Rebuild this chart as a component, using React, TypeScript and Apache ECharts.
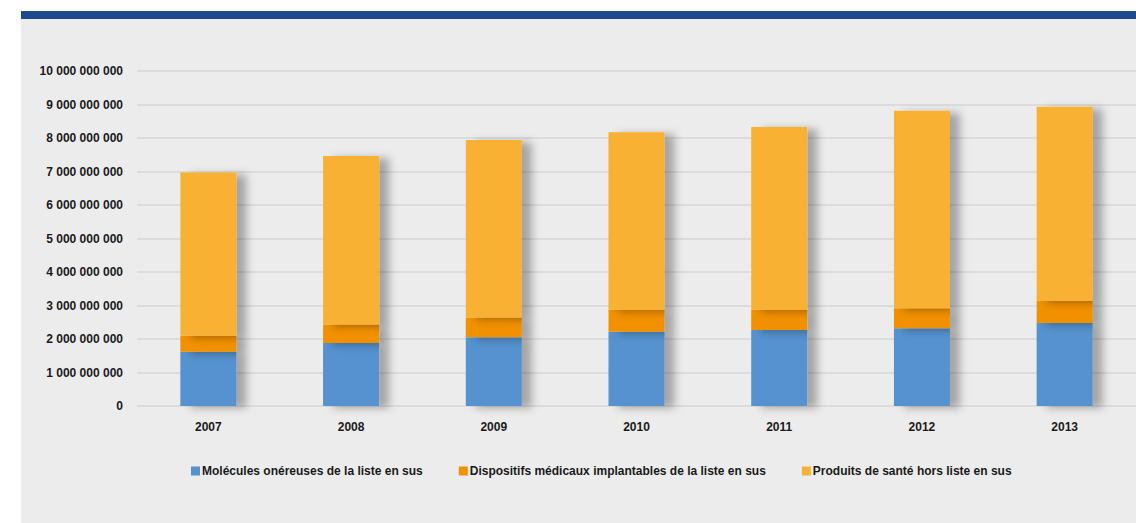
import React, { useEffect, useRef } from "react";
import * as echarts from "echarts";

const years = ["2007", "2008", "2009", "2010", "2011", "2012", "2013"];
const molecules = [1.62e9, 1.88e9, 2.05e9, 2.22e9, 2.27e9, 2.32e9, 2.48e9];
const dispositifs = [0.48e9, 0.55e9, 0.59e9, 0.65e9, 0.6e9, 0.6e9, 0.66e9];
const horsListe = [4.87e9, 5.03e9, 5.3e9, 5.3e9, 5.46e9, 5.89e9, 5.79e9];
const seriesNames = [
  "Molécules onéreuses de la liste en sus",
  "Dispositifs médicaux implantables de la liste en sus",
  "Produits de santé hors liste en sus",
];
const colors = ["#5592cf", "#f29100", "#f8b133"];

const FONT = "'Liberation Sans', Arial, sans-serif";

function fmt(v: number): string {
  return String(Math.round(v)).replace(/\B(?=(\d{3})+(?!\d))/g, " ");
}

export default function App() {
  const ref = useRef<HTMLDivElement>(null);
  useEffect(() => {
    if (!ref.current) return;
    const chart = echarts.init(ref.current, null, { renderer: "svg" });
    const shadow = {
      shadowColor: "rgba(0,0,0,0.3)",
      shadowBlur: 9,
      shadowOffsetX: 10,
      shadowOffsetY: 2,
    };
    const data = [molecules, dispositifs, horsListe];
    chart.setOption({
      animation: false,
      backgroundColor: "#ffffff",
      graphic: [
        { type: "rect", shape: { x: 21, y: 19, width: 1115, height: 504 }, style: { fill: "#ececec" }, z: -10 },
        { type: "rect", shape: { x: 21, y: 11, width: 1115, height: 8 }, style: { fill: "#1a4a90" }, z: -10 },
      ],
      grid: { left: 137, right: -3, top: 71, bottom: 117 },
      legend: {
        left: 186,
        top: 460,
        itemWidth: 9,
        itemHeight: 9,
        itemGap: 36,
        icon: "rect",
        textStyle: { fontFamily: FONT, fontWeight: "bold", fontSize: 12, color: "#1a1a1a", padding: [4, 0, 0, -3] },
        data: seriesNames,
      },
      xAxis: {
        type: "category",
        data: years,
        axisLine: { show: false },
        axisTick: { show: false },
        axisLabel: { fontFamily: FONT, fontWeight: "bold", fontSize: 12, color: "#1a1a1a", margin: 15 },
      },
      yAxis: {
        type: "value",
        min: 0,
        max: 10e9,
        interval: 1e9,
        axisLine: { show: false },
        axisTick: { show: false },
        splitLine: { lineStyle: { color: "#dcdcdc", width: 2 } },
        axisLabel: {
          fontFamily: FONT,
          fontWeight: "bold",
          fontSize: 12,
          color: "#1a1a1a",
          margin: 14,
          formatter: (v: number) => fmt(v),
        },
      },
      series: data.map((d, i) => ({
        name: seriesNames[i],
        type: "bar",
        stack: "total",
        barWidth: 56,
        data: d,
        itemStyle: { color: colors[i], ...shadow },
      })),
    });
    return () => chart.dispose();
  }, []);
  return <div ref={ref} style={{ position: "fixed", left: 0, top: 0, width: 1136, height: 523 }} />;
}
